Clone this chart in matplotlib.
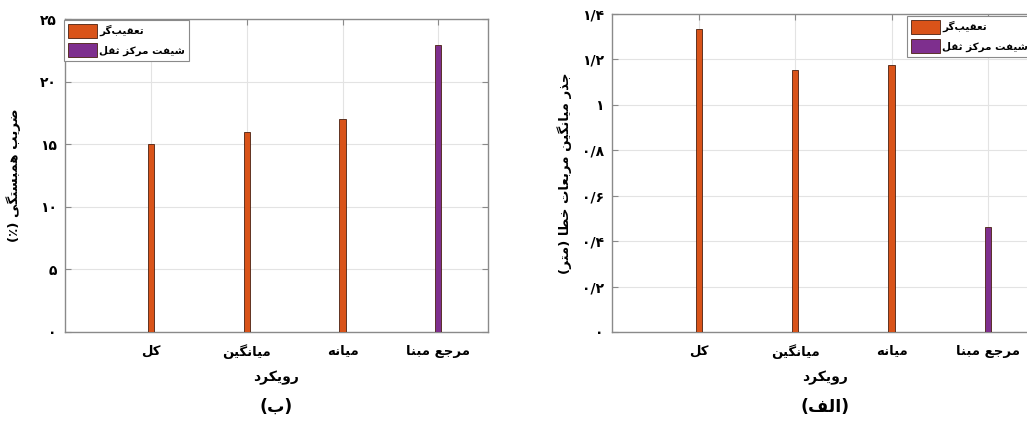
import matplotlib
matplotlib.use('Agg')
import matplotlib.pyplot as plt
import numpy as np

# categories (logical Persian text) and values
cats = ['کل', 'میانگین', 'میانه', 'مرجع مبنا']
corr = [15.0, 15.95, 17.0, 22.9]          # (ب) correlation coefficient %
rmse = [1.333, 1.154, 1.174, 0.461]       # (الف) RMSE in metres
is_centroid = [False, False, False, True]

legend_names = ['تعقیب\u200cگر', 'شیفت مرکز ثقل']
corr_ticks = [0, 5, 10, 15, 20, 25]
rmse_ticks = [0, 0.2, 0.4, 0.6, 0.8, 1.0, 1.2, 1.4]

# --- tiny Persian shaper: matplotlib does no Arabic shaping itself ---
# letter: (isolated, final, initial, medial); None initial => right-joining only
FORMS = {
    'ا': (0xFE8D, 0xFE8E, None, None), 'ب': (0xFE8F, 0xFE90, 0xFE91, 0xFE92),
    'ت': (0xFE95, 0xFE96, 0xFE97, 0xFE98), 'ث': (0xFE99, 0xFE9A, 0xFE9B, 0xFE9C),
    'ج': (0xFE9D, 0xFE9E, 0xFE9F, 0xFEA0), 'خ': (0xFEA5, 0xFEA6, 0xFEA7, 0xFEA8),
    'د': (0xFEA9, 0xFEAA, None, None), 'ذ': (0xFEAB, 0xFEAC, None, None),
    'ر': (0xFEAD, 0xFEAE, None, None), 'ز': (0xFEAF, 0xFEB0, None, None),
    'س': (0xFEB1, 0xFEB2, 0xFEB3, 0xFEB4), 'ش': (0xFEB5, 0xFEB6, 0xFEB7, 0xFEB8),
    'ض': (0xFEBD, 0xFEBE, 0xFEBF, 0xFEC0), 'ط': (0xFEC1, 0xFEC2, 0xFEC3, 0xFEC4),
    'ع': (0xFEC9, 0xFECA, 0xFECB, 0xFECC), 'ف': (0xFED1, 0xFED2, 0xFED3, 0xFED4),
    'ق': (0xFED5, 0xFED6, 0xFED7, 0xFED8), 'ل': (0xFEDD, 0xFEDE, 0xFEDF, 0xFEE0),
    'م': (0xFEE1, 0xFEE2, 0xFEE3, 0xFEE4), 'ن': (0xFEE5, 0xFEE6, 0xFEE7, 0xFEE8),
    'ه': (0xFEE9, 0xFEEA, 0xFEEB, 0xFEEC), 'و': (0xFEED, 0xFEEE, None, None),
    'ی': (0xFBFC, 0xFBFD, 0xFBFE, 0xFBFF), 'ک': (0xFB8E, 0xFB8F, 0xFB90, 0xFB91),
    'گ': (0xFB92, 0xFB93, 0xFB94, 0xFB95),
}
MIRROR = {'(': ')', ')': '('}


def fa(s):
    out = []
    n = len(s)
    for i, ch in enumerate(s):
        if ch not in FORMS:
            if ch != '\u200c':
                out.append(MIRROR.get(ch, ch))
            continue
        prev = s[i - 1] if i > 0 else ''
        nxt = s[i + 1] if i < n - 1 else ''
        join_prev = prev in FORMS and FORMS[prev][2] is not None
        join_next = FORMS[ch][2] is not None and nxt in FORMS
        iso, fin, ini, med = FORMS[ch]
        if join_prev and join_next:
            cp = med
        elif join_prev:
            cp = fin
        elif join_next:
            cp = ini
        else:
            cp = iso
        out.append(chr(cp))
    return ''.join(reversed(out))


FA_DIGITS = str.maketrans('0123456789.', '۰۱۲۳۴۵۶۷۸۹/')


def fa_num(v):
    return ('%g' % v).translate(FA_DIGITS)


plt.rcParams['font.family'] = ['DejaVu Sans']
plt.rcParams['font.weight'] = 'bold'

orange = '#D95319'
purple = '#7E2F8E'
edge = '#4a2010'
frame = '#8a8a8a'
font = 10

fig = plt.figure(figsize=(10.27, 4.26), dpi=100)
ax_b = fig.add_axes([65 / 1027, 1 - 332 / 426, 423 / 1027, 313 / 426])
ax_a = fig.add_axes([612 / 1027, 1 - 332 / 426, 426 / 1027, 318 / 426])

x = np.arange(1, len(cats) + 1)


def style(ax, vals, ticks, ylabel, title, label_x):
    cols = [purple if c else orange for c in is_centroid]
    ax.bar(x, vals, width=0.065, color=cols, edgecolor=edge, linewidth=0.6, zorder=3)
    ax.set_xlim(0.1, 4.52)
    ax.set_ylim(ticks[0], ticks[-1])
    ax.set_xticks(x)
    ax.set_xticklabels([fa(c) for c in cats], fontsize=9.5, fontweight='bold')
    ax.set_yticks(ticks)
    ax.set_yticklabels([fa_num(t) for t in ticks], fontsize=font, fontweight='bold')
    ax.grid(color='#e3e3e3', linewidth=0.8, zorder=0)
    ax.set_axisbelow(True)
    for sp in ax.spines.values():
        sp.set_color(frame)
        sp.set_linewidth(1.0)
    ax.tick_params(direction='in', length=4, color=frame, top=True, right=True, pad=9)
    ax.tick_params(axis='y', pad=6)
    ax.set_xlabel(fa('رویکرد'), fontsize=10, fontweight='bold', labelpad=8)
    ax.set_ylabel(ylabel, fontsize=9.5, fontweight='bold')
    ax.yaxis.set_label_coords(label_x, 0.5)
    tr = matplotlib.transforms.blended_transform_factory(ax.transAxes, fig.transFigure)
    ax.text(0.5, 1 - 407 / 426, title, transform=tr, ha='center', va='center',
            fontsize=12.5, fontweight='bold')


style(ax_b, corr, corr_ticks, fa('ضریب همبستگی (٪)'), fa('(ب)'), -0.105)
style(ax_a, rmse, rmse_ticks, fa('جذر میانگین مربعات خطا (متر)'), fa('(الف)'), -0.095)

handles = [plt.Rectangle((0, 0), 1, 1, facecolor=orange, edgecolor=edge, linewidth=0.6),
           plt.Rectangle((0, 0), 1, 1, facecolor=purple, edgecolor=edge, linewidth=0.6)]
labels = [fa(n) for n in legend_names]
for ax, anchor in [(ax_b, (64 / 1027, 1 - 20 / 426)), (ax_a, (907 / 1027, 1 - 16 / 426))]:
    leg = ax.legend(handles, labels, loc='upper left', bbox_to_anchor=anchor,
                    bbox_transform=fig.transFigure, borderaxespad=0,
                    handlelength=2.8, handleheight=1.7,
                    handletextpad=0.25, borderpad=0.35, labelspacing=0.5,
                    fancybox=False, framealpha=1, edgecolor=frame,
                    prop={'weight': 'bold', 'size': 7.5})
    leg.get_frame().set_linewidth(0.8)

fig.savefig('out.png', dpi=100)
plt.close()
